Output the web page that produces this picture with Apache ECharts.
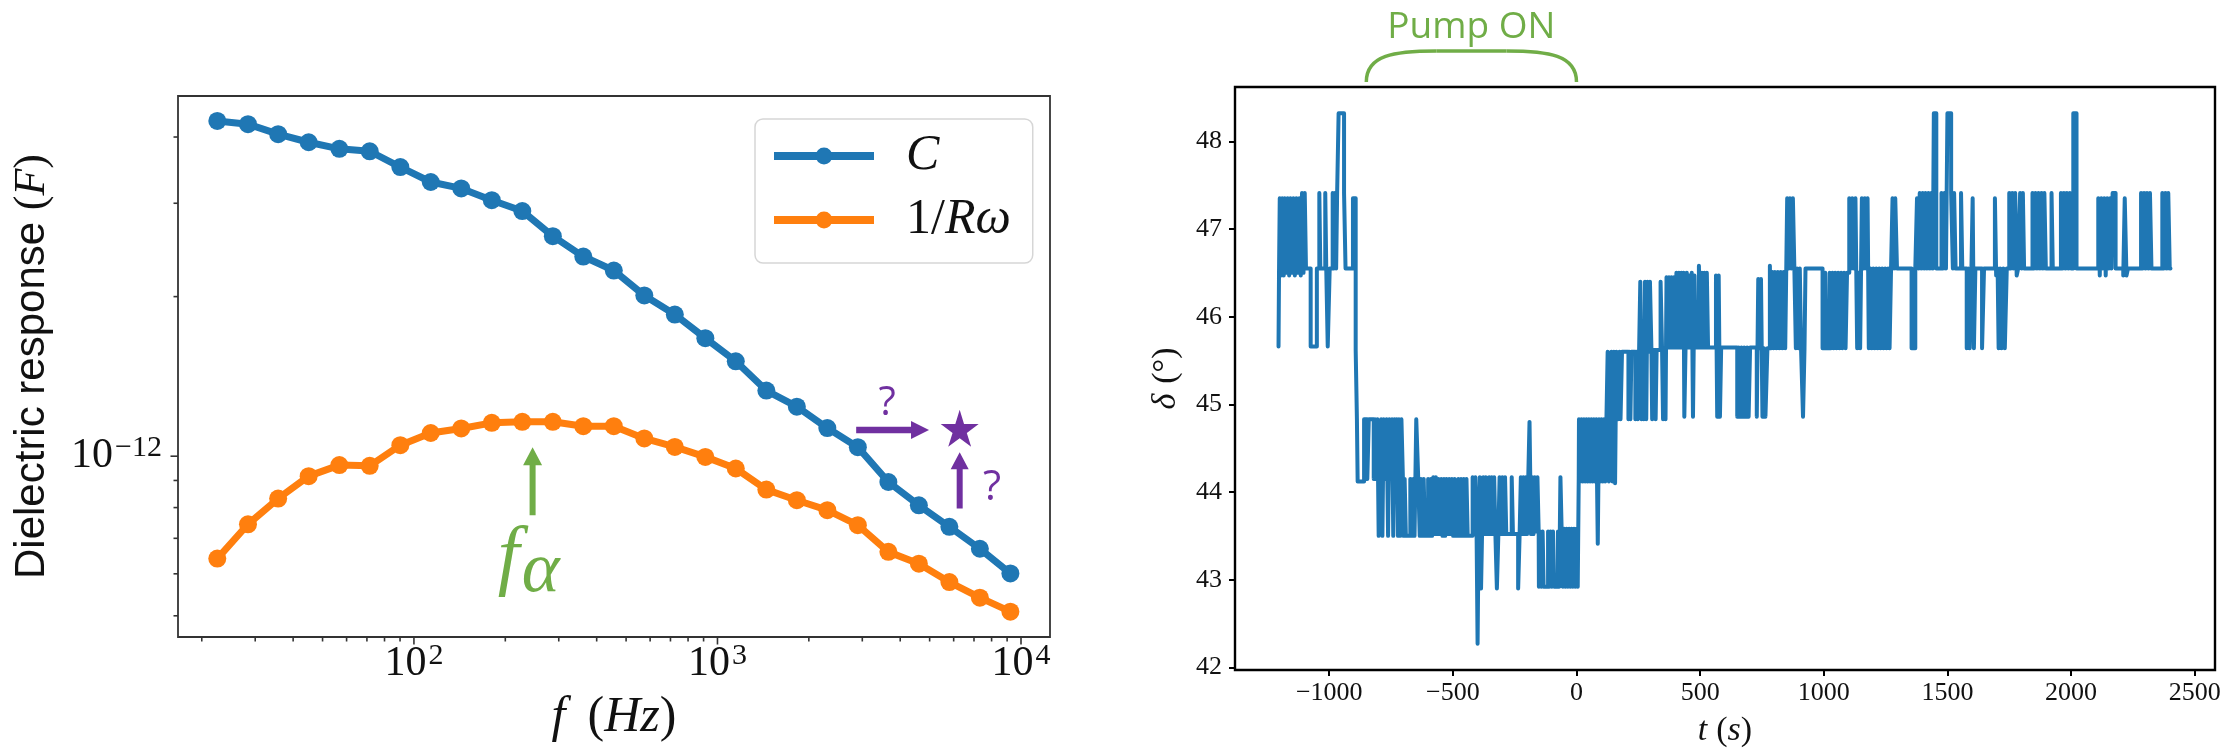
<!DOCTYPE html>
<html>
<head>
<meta charset="utf-8">
<script src="https://cdn.jsdelivr.net/npm/echarts@6/dist/echarts.min.js"></script>
<style>
html, body { margin: 0; background: #fff; }
#main { width: 2238px; height: 753px; }
</style>
</head>
<body>
<div id="main"></div>
<script>
// left panel : dielectric response, values kept in pF (axis labels add the 10^-12)
var freqHz = [22.5, 28.4, 35.7, 45.0, 56.8, 71.5, 90.2, 113.6, 143.2, 180.5, 227.5, 286.8, 361.4, 455.5,
  574.1, 723.6, 912.0, 1149, 1449, 1826, 2301, 2900, 3656, 4608, 5808, 7320, 9226];
var capC = [4.29, 4.23, 4.05, 3.91, 3.80, 3.76, 3.51, 3.29, 3.20, 3.04, 2.90, 2.60, 2.38, 2.24,
  2.01, 1.85, 1.67, 1.51, 1.33, 1.24, 1.13, 1.04, 0.894, 0.808, 0.736, 0.669, 0.601];
var invRw = [0.641, 0.744, 0.832, 0.917, 0.962, 0.959, 1.049, 1.106, 1.128, 1.156, 1.161, 1.161, 1.139, 1.139,
  1.080, 1.041, 0.997, 0.948, 0.865, 0.826, 0.791, 0.741, 0.660, 0.627, 0.579, 0.541, 0.509];
var fMajor = [100, 1000, 10000];
var fMinor = [20, 30, 40, 50, 60, 70, 80, 90, 200, 300, 400, 500, 600, 700, 800, 900,
  2000, 3000, 4000, 5000, 6000, 7000, 8000, 9000];
var cMajor = [1];
var cMinor = [0.5, 0.6, 0.7, 0.8, 0.9, 2, 3, 4];
var starPt = [6280, 1.129];

// right panel : delta (deg) vs t (s), step data [t, delta]
var tTicks = [-1000, -500, 0, 500, 1000, 1500, 2000, 2500];
var dTicks = [42, 43, 44, 45, 46, 47, 48];
var deltaSteps = [
  [-1205,45.66],[-1203,46.5],[-1200,47.35],[-1195,46.47],[-1190,47.35],[-1184,46.47],[-1180,47.35],[-1174,46.5],
  [-1168,47.35],[-1162,46.47],[-1157,47.35],[-1150,46.5],[-1145,47.35],[-1139,46.47],[-1133,47.35],[-1127,46.5],
  [-1121,47.35],[-1115,46.47],[-1110,47.41],[-1104,46.5],[-1099,47.41],
  [-1094,46.55],[-1075,45.66],[-1050,46.55],[-1040,47.41],[-1036,46.55],[-1016,47.41],[-1012,46.55],[-1006,45.66],
  [-998,46.55],[-986,47.41],[-981,46.55],[-977,47.41],[-972,46.55],[-968,47.41],[-962,48.32],[-940,47.41],
  [-934,46.55],[-904,47.35],[-893,45.62],
  [-888,44.83],[-885,44.12],[-859,44.83],[-846,44.15],[-840,44.83],[-820,44.15],[-815,44.83],[-810,44.15],
  [-805,44.83],[-800,43.5],[-795,44.15],[-790,44.83],[-785,43.5],[-780,44.83],[-772,44.15],[-768,44.83],
  [-762,43.5],[-757,44.83],[-752,44.15],[-746,44.83],[-741,43.5],[-736,44.83],[-731,44.15],[-727,44.83],
  [-722,43.5],[-718,44.83],[-713,43.5],[-708,44.83],[-702,44.15],
  [-700,43.5],[-695,44.15],[-690,43.5],[-672,44.15],[-667,43.5],[-660,44.15],[-655,43.5],[-648,44.83],
  [-640,44.15],[-634,43.5],[-629,44.15],[-624,43.5],[-618,44.15],[-613,43.5],[-600,44.15],[-594,43.5],
  [-589,44.15],[-584,43.5],[-579,44.17],[-574,43.52],[-569,44.17],[-564,43.52],[-558,44.15],[-552,43.52],
  [-547,44.15],[-542,43.5],[-536,44.15],[-531,43.5],[-526,44.15],[-520,43.52],[-515,44.15],[-509,43.52],
  [-504,44.15],[-499,43.5],[-493,44.15],[-488,43.5],[-478,44.15],[-473,43.5],[-467,44.15],[-462,43.5],
  [-456,44.15],[-451,43.5],[-445,44.15],[-440,43.5],[-420,44.17],[-414,43.52],[-409,44.17],[-404,43.52],
  [-400,42.27],[-396,43.52],[-391,44.17],[-386,42.9],[-382,43.52],[-377,44.17],[-372,43.52],[-367,44.17],
  [-360,43.52],[-353,44.17],[-348,43.52],[-343,44.17],[-338,43.52],[-333,44.17],[-328,43.52],[-322,42.9],
  [-316,43.52],[-311,44.17],[-306,43.52],[-300,44.17],[-295,43.52],[-289,44.17],[-284,43.52],[-262,44.17],
  [-257,43.52],[-236,42.9],[-230,43.52],[-225,44.17],[-220,43.52],[-215,44.17],[-210,43.52],[-205,44.17],
  [-200,43.52],[-195,44.17],[-190,44.8],[-184,43.52],[-179,44.17],[-174,43.52],[-169,44.17],[-164,43.55],
  [-158,44.17],[-153,43.55],
  [-152,42.92],[-147,43.55],[-142,42.92],[-137,43.55],[-133,42.92],[-115,43.55],[-110,42.92],[-105,43.55],
  [-100,42.92],[-95,43.55],[-90,42.92],[-75,43.55],[-70,42.92],[-65,44.17],[-60,43.55],[-55,42.92],
  [-50,43.58],[-45,42.92],[-40,43.58],[-35,42.92],[-30,43.58],[-25,42.92],[-20,43.58],[-15,42.92],
  [-10,43.58],[-5,42.92],[0,43.58],[5,42.92],[9,44.15],
  [10,44.83],[15,44.12],[20,44.83],[25,44.12],[30,44.83],[35,44.12],[40,44.83],[45,44.12],[50,44.83],
  [55,44.12],[60,44.83],[65,44.12],[70,44.83],[75,44.12],[80,44.83],[86,43.41],[91,44.83],[96,44.12],
  [101,44.83],[106,44.12],[111,44.83],[116,44.12],[121,44.83],[126,45.6],[131,44.12],[136,44.83],
  [141,45.6],[146,44.12],[151,45.6],[156,44.1],
  [161,45.6],[168,44.83],[174,45.6],[178,44.83],[184,45.6],[210,44.83],[214,45.6],[218,44.83],[222,45.6],
  [238,44.83],[243,45.6],[248,44.83],[253,45.6],[258,46.4],[263,44.83],[268,45.6],[272,44.83],[277,46.4],
  [282,44.83],[287,46.4],[292,45.6],[297,46.4],[303,45.62],[306,44.83],[310,45.62],[320,44.83],[324,45.62],
  [340,46.4],[346,45.62],[350,44.83],[355,45.62],[360,44.83],[364,46.45],[369,45.65],[374,46.45],
  [379,45.65],[384,46.45],[389,45.65],[394,46.45],[399,45.65],[404,46.5],[409,45.65],[414,46.5],[419,45.65],
  [424,46.5],[428,45.65],[433,46.5],[436,44.86],[441,45.65],[446,46.5],[451,45.65],[456,46.47],[461,45.65],
  [466,46.5],[471,44.86],[477,46.47],[482,45.65],[495,46.58],[501,45.65],[507,46.5],[512,45.65],[517,46.5],
  [522,45.65],[527,46.5],[532,45.65],[564,46.47],[569,44.86],[575,46.47],[580,44.86],[585,45.65],
  [650,44.86],[656,45.65],[661,44.86],[667,45.65],[672,44.86],[678,45.65],[684,44.86],[690,45.65],
  [696,44.86],[702,45.65],[729,44.86],[735,46.43],[741,45.64],[746,46.43],[752,44.86],[758,45.64],
  [764,44.86],[772,45.64],[782,46.58],[787,45.64],[792,46.51],[797,45.64],[802,46.51],[808,45.64],
  [814,46.51],[820,45.64],[826,46.51],[832,45.64],[838,46.51],[844,45.64],[852,47.35],[858,46.55],
  [863,47.35],[869,46.55],[875,47.35],[881,46.55],[887,45.64],[892,46.55],[897,45.64],[903,46.55],
  [908,45.64],[916,44.86],[922,45.64],[926,46.55],
  [995,45.64],[1006,46.5],[1011,45.64],[1024,46.5],[1029,45.64],[1035,46.5],[1040,45.64],[1046,46.5],
  [1051,45.64],[1058,46.5],[1063,45.64],[1070,46.5],[1075,45.64],[1082,46.5],[1088,45.64],[1094,46.5],
  [1103,47.35],[1110,46.55],[1115,47.35],[1122,46.55],[1128,47.35],[1135,45.64],[1141,46.5],[1147,45.64],
  [1154,47.35],[1160,46.55],[1166,47.35],[1172,46.55],[1177,47.35],[1182,45.64],[1188,46.55],[1194,45.64],
  [1200,46.55],[1206,45.64],[1212,46.55],[1218,45.64],[1224,46.55],[1230,45.64],[1236,46.55],[1242,45.64],
  [1248,46.55],[1254,45.64],[1260,46.55],[1266,45.64],[1272,46.55],[1278,47.35],[1284,46.55],[1289,47.35],
  [1296,46.55],[1355,45.64],[1370,46.55],[1377,47.35],[1383,46.55],[1388,47.41],[1394,46.55],[1400,47.41],
  [1406,46.55],[1411,47.41],[1417,46.55],[1423,47.41],[1429,46.55],[1435,47.41],[1441,46.55],[1445,48.32],
  [1455,46.55],[1476,47.41],[1482,46.55],[1488,47.41],[1494,46.55],[1500,48.32],[1515,47.41],[1522,46.55],
  [1527,47.41],[1533,46.55],[1555,47.41],[1560,46.55],[1578,45.64],[1584,46.55],[1590,45.64],[1597,46.55],
  [1602,47.35],[1607,45.64],[1613,46.55],[1640,45.64],[1648,46.55],[1692,47.35],[1697,46.47],[1703,46.55],
  [1707,45.64],[1713,46.55],[1719,45.64],[1726,46.55],[1732,45.64],[1740,46.55],[1750,47.41],[1756,46.55],
  [1762,47.41],[1768,46.55],[1774,47.41],[1780,46.47],[1786,46.55],[1794,47.41],[1800,46.55],[1805,47.41],
  [1810,46.55],[1844,47.41],[1850,46.55],[1856,47.41],[1862,46.55],[1868,47.41],[1874,46.55],[1880,47.41],
  [1886,46.55],[1892,47.41],[1898,46.55],[1921,47.41],[1926,46.55],[1959,47.41],[1965,46.55],[1971,47.41],
  [1977,46.55],[1983,47.41],[1989,46.55],[1995,47.41],[2000,46.55],[2009,48.32],[2022,46.55],[2110,47.35],
  [2116,46.47],[2122,47.35],[2128,46.55],[2134,47.35],[2140,46.47],[2146,47.35],[2152,46.55],[2158,47.35],
  [2163,46.55],[2168,47.41],[2180,46.55],[2211,46.47],[2217,47.35],[2224,46.47],[2230,46.55],[2283,47.41],
  [2289,46.55],[2295,47.41],[2301,46.55],[2307,47.41],[2313,46.55],[2319,47.41],[2325,46.55],[2369,47.41],
  [2375,46.55],[2381,47.41],[2387,46.55],[2393,47.41],[2399,46.55],[2402,46.55]
];

var F_MIN = 16.7, F_MAX = 12460, C_MIN = 0.456, C_MAX = 4.78;
var T_MIN = -1381, T_MAX = 2582, D_MIN = 41.97, D_MAX = 48.62;

var serif = 'Liberation Serif';
var green = '#70ad47', purple = '#7030a0';

function pow10Label(v, shift) {
  var e = Math.log10(v);
  if (Math.abs(e - Math.round(e)) > 1e-6) return '';
  e = Math.round(e) + shift;
  return '{b|10}{s|' + String(e).replace('-', '\u2212') + '}';
}

function tickItem(vertical) {
  return function (params, api) {
    var p = api.coord([api.value(0), api.value(1)]);
    var len = api.value(2) ? 7.5 : 4.5;
    var shape = vertical
      ? { x1: p[0], y1: p[1], x2: p[0], y2: p[1] + len }
      : { x1: p[0], y1: p[1], x2: p[0] - len, y2: p[1] };
    return { type: 'line', shape: shape, style: { stroke: '#333', lineWidth: 1.6 } };
  };
}

var labelRich = {
  b: { fontFamily: serif, fontSize: 42, color: '#111' },
  s: { fontFamily: serif, fontSize: 30, color: '#111', padding: [0, 0, 16, 2] }
};

var chart = echarts.init(document.getElementById('main'));
var option = {
  animation: false,
  backgroundColor: '#fff',
  grid: [
    { left: 178, top: 96, width: 872, height: 541, show: true, borderColor: '#333', borderWidth: 1.8, backgroundColor: 'transparent' },
    { left: 1235, top: 87, width: 980, height: 584, show: true, borderColor: '#000', borderWidth: 2.4, backgroundColor: 'transparent' }
  ],
  legend: {
    data: ['C', '1/R\u03c9'],
    orient: 'vertical',
    left: 755, top: 119,
    itemWidth: 100, itemHeight: 21, itemGap: 14,
    padding: [12, 22, 18, 15],
    backgroundColor: 'rgba(255,255,255,0.8)',
    borderColor: '#d6d6d6', borderWidth: 1.5, borderRadius: 8,
    selectedMode: false,
    lineStyle: { width: 8 },
    formatter: function (name) { return name === 'C' ? '{i|C}' : '{r|1/}{i|R\u03c9}'; },
    textStyle: {
      padding: [0, 0, 0, 27],
      rich: {
        i: { fontFamily: serif, fontStyle: 'italic', fontSize: 50, lineHeight: 52, color: '#111' },
        r: { fontFamily: serif, fontSize: 50, lineHeight: 52, color: '#111' }
      }
    }
  },
  xAxis: [
    {
      type: 'log', gridIndex: 0, min: F_MIN, max: F_MAX,
      axisLine: { show: false }, axisTick: { show: false }, splitLine: { show: false },
      axisLabel: { margin: 4, showMinLabel: false, showMaxLabel: false,
        formatter: function (v) { return pow10Label(v, 0); }, rich: labelRich },
      name: '{f|f}{r|(}{i|Hz}{r|)}', nameLocation: 'middle', nameGap: 56,
      nameTextStyle: { fontSize: 48, rich: {
        f: { fontFamily: serif, fontStyle: 'italic', fontSize: 50, color: '#111', padding: [0, 22, 0, 0] },
        i: { fontFamily: serif, fontStyle: 'italic', fontSize: 50, color: '#111' },
        r: { fontFamily: serif, fontSize: 50, color: '#111' } } }
    },
    {
      type: 'value', gridIndex: 1, min: T_MIN, max: T_MAX,
      axisLine: { show: false, onZero: false }, splitLine: { show: false },
      axisTick: { show: true, length: 6, lineStyle: { color: '#000', width: 2 }, customValues: tTicks },
      axisLabel: { margin: 10, fontFamily: serif, fontSize: 26, color: '#111', customValues: tTicks,
        formatter: function (v) { return String(v).replace('-', '\u2212'); } },
      name: '{f|t}{r|(}{i|s}{r|)}', nameLocation: 'middle', nameGap: 44,
      nameTextStyle: { fontSize: 34, rich: {
        f: { fontFamily: serif, fontStyle: 'italic', fontSize: 34, color: '#111', padding: [0, 9, 0, 0] },
        i: { fontFamily: serif, fontStyle: 'italic', fontSize: 34, color: '#111' },
        r: { fontFamily: serif, fontSize: 34, color: '#111' } } }
    }
  ],
  yAxis: [
    {
      type: 'log', gridIndex: 0, min: C_MIN, max: C_MAX,
      axisLine: { show: false }, axisTick: { show: false }, splitLine: { show: false },
      axisLabel: { margin: 16, showMinLabel: false, showMaxLabel: false,
        formatter: function (v) { return pow10Label(v, -12); }, rich: labelRich },
      name: '{s|Dielectric response }{r|(}{i|F}{r|)}', nameLocation: 'middle', nameGap: 124,
      nameTextStyle: { fontSize: 42, rich: {
        s: { fontFamily: 'Liberation Sans', fontSize: 42, color: '#111' },
        i: { fontFamily: serif, fontStyle: 'italic', fontSize: 44, color: '#111' },
        r: { fontFamily: serif, fontSize: 44, color: '#111' } } }
    },
    {
      type: 'value', gridIndex: 1, min: D_MIN, max: D_MAX,
      axisLine: { show: false, onZero: false }, splitLine: { show: false },
      axisTick: { show: true, length: 6, lineStyle: { color: '#000', width: 2 }, customValues: dTicks },
      axisLabel: { margin: 13, fontFamily: serif, fontSize: 26, color: '#111', customValues: dTicks },
      name: '{f|\u03b4}{r|(\u00b0)}', nameLocation: 'middle', nameGap: 52,
      nameTextStyle: { fontSize: 34, rich: {
        f: { fontFamily: serif, fontStyle: 'italic', fontSize: 34, color: '#111', padding: [0, 10, 0, 0] },
        r: { fontFamily: serif, fontSize: 34, color: '#111' } } }
    }
  ],
  series: [
    {
      name: 'C', type: 'line', xAxisIndex: 0, yAxisIndex: 0,
      data: freqHz.map(function (f, i) { return [f, capC[i]]; }),
      symbol: 'circle', symbolSize: 18,
      lineStyle: { width: 7, color: '#1f77b4' }, itemStyle: { color: '#1f77b4' }, z: 3
    },
    {
      name: '1/R\u03c9', type: 'line', xAxisIndex: 0, yAxisIndex: 0,
      data: freqHz.map(function (f, i) { return [f, invRw[i]]; }),
      symbol: 'circle', symbolSize: 18,
      lineStyle: { width: 7, color: '#ff7f0e' }, itemStyle: { color: '#ff7f0e' }, z: 3
    },
    {
      name: 'star', type: 'scatter', xAxisIndex: 0, yAxisIndex: 0, data: [starPt],
      symbol: 'path://M50,0 L61,35 L98,35 L68,57 L79,91 L50,70 L21,91 L32,57 L2,35 L39,35 Z',
      symbolSize: [38, 37], itemStyle: { color: purple, opacity: 1 }, silent: true, z: 4
    },
    {
      name: 'fticks', type: 'custom', xAxisIndex: 0, yAxisIndex: 0, silent: true,
      encode: { x: 0, y: 1 },
      data: fMajor.map(function (v) { return [v, C_MIN, 1]; }).concat(fMinor.map(function (v) { return [v, C_MIN, 0]; })),
      renderItem: tickItem(true)
    },
    {
      name: 'cticks', type: 'custom', xAxisIndex: 0, yAxisIndex: 0, silent: true,
      encode: { x: 0, y: 1 },
      data: cMajor.map(function (v) { return [F_MIN, v, 1]; }).concat(cMinor.map(function (v) { return [F_MIN, v, 0]; })),
      renderItem: tickItem(false)
    },
    {
      name: 'delta', type: 'line', xAxisIndex: 1, yAxisIndex: 1, step: 'end',
      data: deltaSteps, showSymbol: false, symbol: 'none',
      lineStyle: { width: 4, color: '#1f77b4', join: 'round', cap: 'round' }
    }
  ]
};
chart.setOption(option);

// annotations, anchored on data coordinates
function P(g, x, y) { return chart.convertToPixel({ gridIndex: g }, [x, y]); }
function arrow(from, to, w, hw, hl, color) {
  var dx = to[0] - from[0], dy = to[1] - from[1], L = Math.sqrt(dx * dx + dy * dy);
  var ux = dx / L, uy = dy / L, nx = -uy, ny = ux;
  var bx = to[0] - ux * hl, by = to[1] - uy * hl;
  return {
    type: 'polygon', silent: true,
    shape: { points: [
      [from[0] + nx * w / 2, from[1] + ny * w / 2], [bx + nx * w / 2, by + ny * w / 2],
      [bx + nx * hw / 2, by + ny * hw / 2], [to[0], to[1]],
      [bx - nx * hw / 2, by - ny * hw / 2], [bx - nx * w / 2, by - ny * w / 2],
      [from[0] - nx * w / 2, from[1] - ny * w / 2]] },
    style: { fill: color }
  };
}
var aTail = P(0, 246, 0.774), aTip = P(0, 246, 1.04);
var q1 = P(0, 3622, 1.259), q2 = P(0, 8035, 0.870);
var pumpL = P(1, -850, D_MAX), pumpR = P(1, 0, D_MAX);
var by0 = pumpL[1] - 5, byTop = pumpL[1] - 36, bmid = (pumpL[0] + pumpR[0]) / 2;
var braceStyle = { fill: 'none', stroke: green, lineWidth: 3.5 };

chart.setOption({
  graphic: [
    arrow(aTail, aTip, 6, 19, 18, green),
    { type: 'text', silent: true, style: { text: 'f', x: aTail[0] - 24, y: aTail[1] + 44, align: 'center', verticalAlign: 'middle',
      font: 'italic 78px "Liberation Serif"', fill: green } },
    { type: 'text', silent: true, style: { text: '\u03b1', x: aTail[0] + 8, y: aTail[1] + 57, align: 'center', verticalAlign: 'middle',
      font: 'italic 72px "Liberation Serif"', fill: green } },
    arrow(P(0, 2864, 1.12), P(0, 4977, 1.12), 6.5, 18, 18, purple),
    arrow(P(0, 6280, 0.797), P(0, 6280, 1.017), 6, 18, 17, purple),
    { type: 'text', silent: true, style: { text: '?', x: q1[0], y: q1[1], align: 'center', verticalAlign: 'middle',
      font: '40px "Open Sans"', fill: purple } },
    { type: 'text', silent: true, style: { text: '?', x: q2[0], y: q2[1], align: 'center', verticalAlign: 'middle',
      font: '42px "Open Sans"', fill: purple } },
    { type: 'bezierCurve', silent: true, style: braceStyle,
      shape: { x1: pumpL[0], y1: by0, cpx1: pumpL[0], cpy1: byTop + 4, cpx2: pumpL[0] + 28, cpy2: byTop, x2: pumpL[0] + 70, y2: byTop } },
    { type: 'line', silent: true, style: braceStyle,
      shape: { x1: pumpL[0] + 70, y1: byTop, x2: pumpR[0] - 70, y2: byTop } },
    { type: 'bezierCurve', silent: true, style: braceStyle,
      shape: { x1: pumpR[0] - 70, y1: byTop, cpx1: pumpR[0] - 28, cpy1: byTop, cpx2: pumpR[0], cpy2: byTop + 4, x2: pumpR[0], y2: by0 } },
    { type: 'text', silent: true, style: { text: 'Pump ON', x: bmid, y: byTop - 24, align: 'center', verticalAlign: 'middle',
      font: '37px "Open Sans"', fill: green } }
  ]
});
</script>
</body>
</html>
